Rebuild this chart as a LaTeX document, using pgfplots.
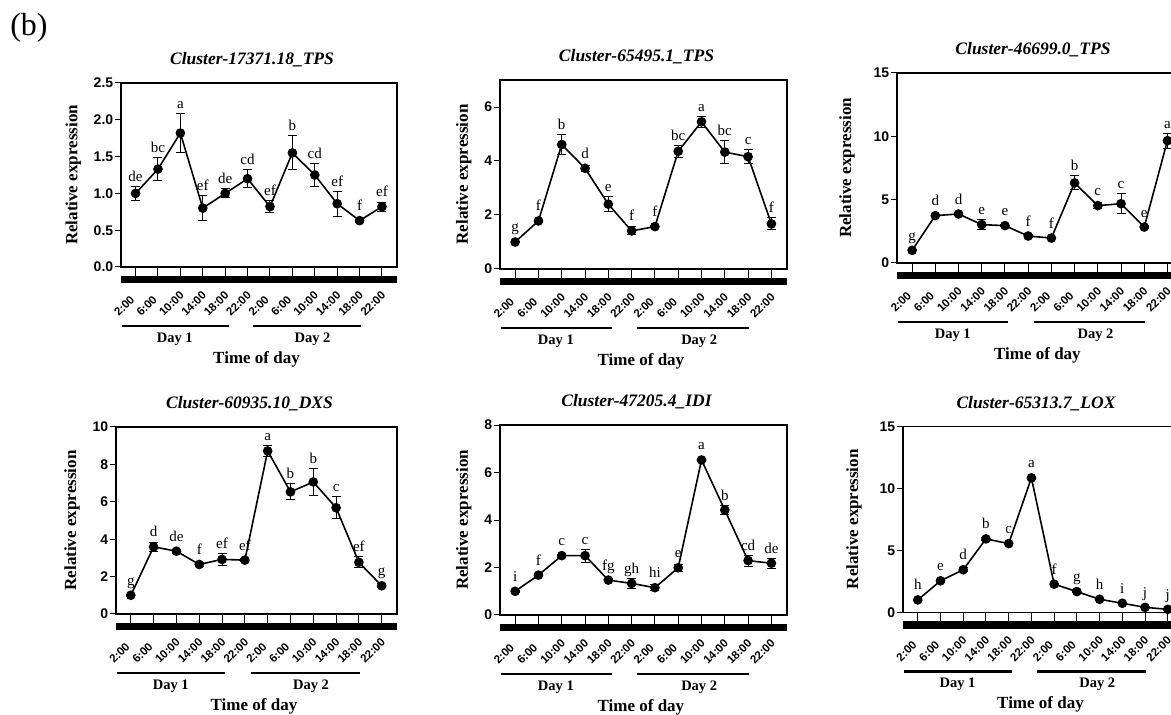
\documentclass[border=0pt]{standalone}
\usepackage{fontspec}
\setmainfont{Liberation Serif}
\setsansfont{Liberation Sans}
\usepackage{pgfplots}
\pgfplotsset{compat=1.18}

\pgfplotsset{
  panel/.style={
    scale only axis, clip=false,
    xmin=-0.65, xmax=11.67, ymin=0,
    axis line style={line width=1.3pt},
    tick style={line width=1pt, black},
    tick align=outside, xtick pos=bottom, ytick pos=left,
    xtick style={/pgfplots/major tick length=9pt},
    ytick style={/pgfplots/major tick length=6pt},
    xtick={0,...,11},
    xticklabels={2:00,6:00,10:00,14:00,18:00,22:00,2:00,6:00,10:00,14:00,18:00,22:00},
    xticklabel shift=0pt,
    xticklabel style={xshift=-16.5pt, yshift=-46pt, rotate=45, anchor=south west, inner sep=0pt,
      font=\sffamily\bfseries\fontsize{11.5}{13}\selectfont},
    /pgf/number format/assume math mode=true,
    yticklabel style={font=\sffamily\bfseries\fontsize{14}{16}\selectfont},
    ylabel={Relative expression},
    ylabel shift=6pt,
    ylabel style={font=\bfseries\fontsize{17}{19}\selectfont},
    title style={font=\bfseries\itshape\fontsize{17.5}{20}\selectfont,
      at={(0.5,1)}, anchor=center, yshift=17pt, xshift=-7pt},
  },
  dat/.style={black, line width=1.6pt, mark=*, mark size=4pt,
    mark options={solid, fill=black},
    error bars/.cd, y dir=both, y explicit,
    error bar style={line width=1pt, black},
    error mark options={rotate=90, mark size=4.5pt, line width=1pt, black}},
  lab/.style={draw=none, mark=none, nodes near coords, point meta=explicit symbolic,
    nodes near coords style={anchor=base, yshift=5pt, inner sep=0pt,
      font=\fontsize{15}{17}\selectfont, black}},
}

\newcommand\decor{%
  \fill[black] ([yshift=-9pt]rel axis cs:0,0) rectangle ([yshift=-16.5pt]rel axis cs:1,0);
  \draw[line width=2.5pt] ([yshift=-59pt]axis cs:-0.6,0) -- ([yshift=-59pt]axis cs:4.15,0);
  \draw[line width=2.5pt] ([yshift=-59pt]axis cs:5.25,0) -- ([yshift=-59pt]axis cs:10.05,0);
  \node[font=\bfseries\fontsize{14.5}{16}\selectfont] at ([yshift=-72pt]axis cs:1.75,0) {Day 1};
  \node[font=\bfseries\fontsize{14.5}{16}\selectfont] at ([yshift=-72pt]axis cs:7.9,0) {Day 2};
  \node[font=\bfseries\fontsize{17}{19}\selectfont] at ([yshift=-92pt]axis cs:5.4,0) {Time of day};
}

\begin{document}
\begin{tikzpicture}[x=1pt,y=1pt]

\node[font=\fontsize{32}{36}\selectfont] at (29pt,687pt) {(b)};

% Panel 1
\begin{axis}[panel, at={(121pt,448pt)}, anchor=south west, width=276pt, height=184pt,
  ymax=2.5, ytick={0,0.5,...,2.5},
  yticklabel style={/pgf/number format/.cd, fixed, fixed zerofill, precision=1},
  title={Cluster-17371.18\_TPS}]
\addplot[dat] coordinates {
 (0,1.00) +- (0,0.09) (1,1.33) +- (0,0.16) (2,1.82) +- (0,0.26) (3,0.80) +- (0,0.17)
 (4,1.00) +- (0,0.06) (5,1.20) +- (0,0.12) (6,0.82) +- (0,0.08) (7,1.55) +- (0,0.23)
 (8,1.25) +- (0,0.15) (9,0.86) +- (0,0.17) (10,0.63) +- (0,0.02) (11,0.82) +- (0,0.06)};
\addplot[lab] coordinates {
 (0,1.09) [de] (1,1.49) [bc] (2,2.08) [a] (3,0.97) [ef] (4,1.07) [de] (5,1.32) [cd]
 (6,0.90) [ef] (7,1.78) [b] (8,1.40) [cd] (9,1.03) [ef] (10,0.70) [f] (11,0.89) [ef]};
\decor
\end{axis}

% Panel 2
\begin{axis}[panel, at={(500pt,446pt)}, anchor=south west, width=287pt, height=189pt,
  ymax=7, ytick={0,2,4,6},
  title={Cluster-65495.1\_TPS}]
\addplot[dat] coordinates {
 (0,1.00) +- (0,0.03) (1,1.78) +- (0,0.06) (2,4.61) +- (0,0.37) (3,3.73) +- (0,0.12)
 (4,2.40) +- (0,0.28) (5,1.41) +- (0,0.15) (6,1.57) +- (0,0.05) (7,4.36) +- (0,0.22)
 (8,5.45) +- (0,0.20) (9,4.33) +- (0,0.44) (10,4.16) +- (0,0.27) (11,1.67) +- (0,0.22)};
\addplot[lab] coordinates {
 (0,1.19) [g] (1,1.97) [f] (2,4.98) [b] (3,3.92) [d] (4,2.68) [e] (5,1.60) [f]
 (6,1.76) [f] (7,4.58) [bc] (8,5.65) [a] (9,4.77) [bc] (10,4.43) [c] (11,1.89) [f]};
\decor
\end{axis}

% Panel 3
\begin{axis}[panel, at={(897pt,452pt)}, anchor=south west, width=286pt, height=190pt,
  ymax=15, ytick={0,5,10,15}, ylabel shift=12pt,
  title={Cluster-46699.0\_TPS}]
\addplot[dat] coordinates {
 (0,1.00) +- (0,0.05) (1,3.74) +- (0,0.10) (2,3.87) +- (0,0.12) (3,3.03) +- (0,0.39)
 (4,2.95) +- (0,0.08) (5,2.13) +- (0,0.12) (6,1.97) +- (0,0.05) (7,6.32) +- (0,0.55)
 (8,4.53) +- (0,0.22) (9,4.68) +- (0,0.79) (10,2.84) +- (0,0.10) (11,9.66) +- (0,0.60)};
\addplot[lab] coordinates {
 (0,1.39) [g] (1,4.13) [d] (2,4.26) [d] (3,3.42) [e] (4,3.34) [e] (5,2.52) [f]
 (6,2.36) [f] (7,6.87) [b] (8,4.92) [c] (9,5.47) [c] (10,3.23) [e] (11,10.26) [a]};
\decor
\end{axis}

% Panel 4
\begin{axis}[panel, at={(116pt,101pt)}, anchor=south west, width=281pt, height=187pt,
  ymax=10, ytick={0,2,...,10},
  title={Cluster-60935.10\_DXS}]
\addplot[dat] coordinates {
 (0,1.00) +- (0,0.05) (1,3.59) +- (0,0.23) (2,3.36) +- (0,0.10) (3,2.65) +- (0,0.10)
 (4,2.92) +- (0,0.33) (5,2.88) +- (0,0.08) (6,8.72) +- (0,0.29) (7,6.53) +- (0,0.43)
 (8,7.06) +- (0,0.71) (9,5.68) +- (0,0.58) (10,2.76) +- (0,0.29) (11,1.51) +- (0,0.10)};
\addplot[lab] coordinates {
 (0,1.27) [g] (1,3.86) [d] (2,3.63) [de] (3,2.92) [f] (4,3.25) [ef] (5,3.15) [ef]
 (6,9.01) [a] (7,6.96) [b] (8,7.77) [b] (9,6.26) [c] (10,3.05) [ef] (11,1.78) [g]};
\decor
\end{axis}

% Panel 5
\begin{axis}[panel, at={(500pt,100pt)}, anchor=south west, width=287pt, height=190pt,
  ymax=8, ytick={0,2,...,8},
  title={Cluster-47205.4\_IDI}]
\addplot[dat] coordinates {
 (0,1.00) +- (0,0.04) (1,1.68) +- (0,0.06) (2,2.50) +- (0,0.06) (3,2.50) +- (0,0.27)
 (4,1.47) +- (0,0.06) (5,1.33) +- (0,0.20) (6,1.15) +- (0,0.12) (7,1.99) +- (0,0.15)
 (8,6.53) +- (0,0.08) (9,4.42) +- (0,0.20) (10,2.29) +- (0,0.23) (11,2.18) +- (0,0.21)};
\addplot[lab] coordinates {
 (0,1.21) [i] (1,1.89) [f] (2,2.71) [c] (3,2.77) [c] (4,1.68) [fg] (5,1.54) [gh]
 (6,1.36) [hi] (7,2.20) [e] (8,6.74) [a] (9,4.63) [b] (10,2.52) [cd] (11,2.39) [de]};
\decor
\end{axis}

% Panel 6
\begin{axis}[panel, at={(903pt,102.7pt)}, anchor=south west, width=280pt, height=186pt,
  ymax=15, ytick={0,5,10,15}, ylabel shift=11pt,
  title={Cluster-65313.7\_LOX}]
\addplot[dat] coordinates {
 (0,1.00) +- (0,0.05) (1,2.54) +- (0,0.10) (2,3.43) +- (0,0.15) (3,5.92) +- (0,0.10)
 (4,5.54) +- (0,0.10) (5,10.84) +- (0,0.15) (6,2.27) +- (0,0.08) (7,1.67) +- (0,0.06)
 (8,1.05) +- (0,0.05) (9,0.73) +- (0,0.04) (10,0.40) +- (0,0.03) (11,0.24) +- (0,0.02)};
\addplot[lab] coordinates {
 (0,1.41) [h] (1,2.95) [e] (2,3.84) [d] (3,6.33) [b] (4,5.95) [c] (5,11.25) [a]
 (6,2.68) [f] (7,2.08) [g] (8,1.46) [h] (9,1.14) [i] (10,0.81) [j] (11,0.65) [j]};
\decor
\end{axis}

\pgfresetboundingbox
\useasboundingbox (0pt,0pt) rectangle (1171pt,715pt);
\end{tikzpicture}
\end{document}
